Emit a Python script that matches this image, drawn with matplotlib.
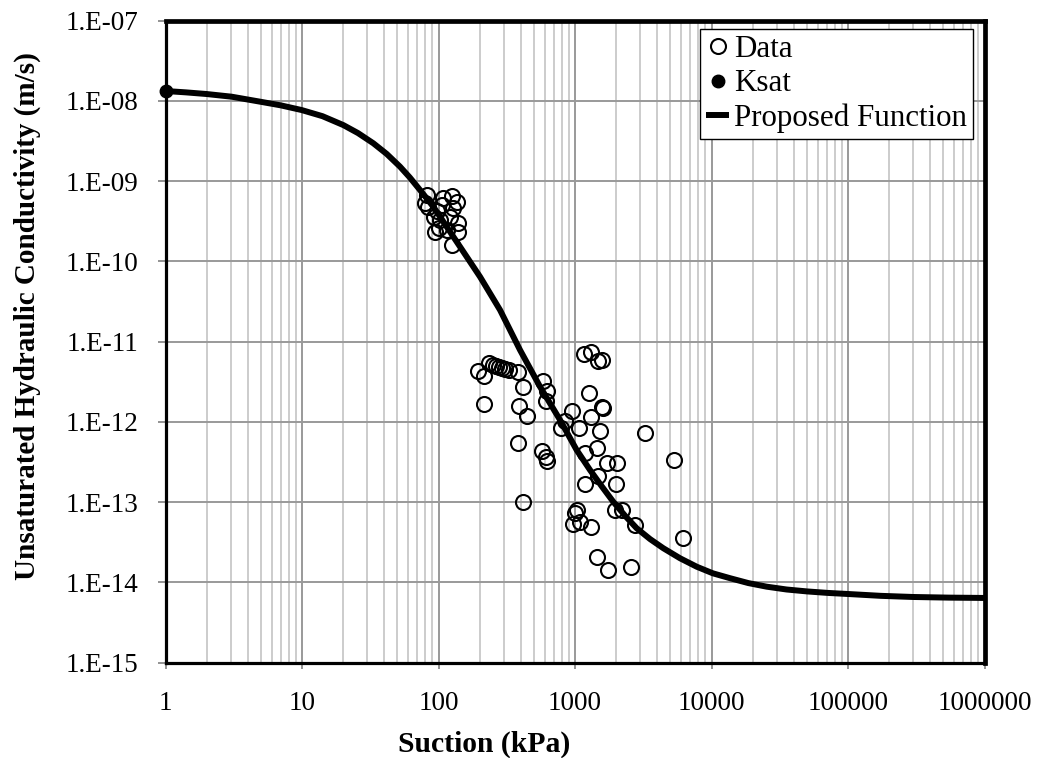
import matplotlib
matplotlib.use("Agg")
import matplotlib.pyplot as plt
from matplotlib.ticker import LogLocator, FixedLocator, NullFormatter
from matplotlib.lines import Line2D

plt.rcParams['font.family'] = ['Liberation Serif', 'DejaVu Serif']

# Measured unsaturated hydraulic conductivity
data_suction = [82, 80, 108, 125, 136, 128, 97, 103, 121, 140, 100, 115, 94, 139, 125,
                92, 106, 84,
                196, 215, 236, 251, 264, 278, 292, 307, 328, 384, 414, 215, 391, 443,
                384, 586, 627, 614, 570, 614, 621,
                1170, 1310, 1466, 1570, 1273, 946, 845, 786, 1076, 1303, 1570, 1524,
                1442, 1183, 1707, 414, 2042, 1482, 1184, 1997, 1964, 2199, 2754, 1029,
                1000, 962, 1088, 1303, 1457, 1754, 2559, 5310, 6150, 3258, 1611]
data_k = [6.7e-10, 5.3e-10, 6.1e-10, 6.5e-10, 5.5e-10, 4.6e-10, 4.2e-10, 3.3e-10,
          3.6e-10, 3.0e-10, 2.6e-10, 2.5e-10, 2.35e-10, 2.35e-10, 1.6e-10,
          3.6e-10, 5.0e-10, 4.8e-10,
          4.3e-12, 3.7e-12, 5.4e-12, 5.1e-12, 5.0e-12, 4.8e-12, 4.7e-12, 4.6e-12,
          4.4e-12, 4.2e-12, 2.75e-12, 1.67e-12, 1.6e-12, 1.2e-12,
          5.4e-13, 3.2e-12, 2.4e-12, 1.8e-12, 4.3e-13, 3.7e-13, 3.3e-13,
          7.0e-12, 7.5e-12, 5.8e-12, 5.9e-12, 2.3e-12, 1.38e-12, 1.04e-12, 8.3e-13,
          8.3e-13, 1.14e-12, 1.55e-12, 7.8e-13,
          4.8e-13, 4.1e-13, 3.05e-13, 1.0e-13, 3.1e-13, 2.1e-13, 1.7e-13, 1.7e-13,
          8.0e-14, 8.0e-14, 5.2e-14, 8.0e-14,
          7.3e-14, 5.35e-14, 5.7e-14, 4.9e-14, 2.1e-14, 1.43e-14, 1.55e-14, 3.4e-13,
          3.6e-14, 7.35e-13, 1.5e-12]

# Saturated hydraulic conductivity
ksat_suction = [1.0]
ksat_k = [1.33e-8]

# Proposed conductivity function
curve_suction = [1.0, 1.413, 2.0, 3.05, 4.92, 7.0, 9.95, 14.13, 20.1, 25.7, 33.3,
                 41.7, 52.2, 61.7, 73.2, 91.6, 102.6, 143.6, 201.4, 282.5, 395.6,
                 554.2, 776.6, 1028, 1288, 1567, 1909, 2344, 2833, 3548, 4437, 5888,
                 7798, 10230, 13670, 18620, 25360, 35480, 50120, 70790, 1e5, 173800,
                 3e5, 549500, 1e6]
curve_k = [1.33e-8, 1.279e-8, 1.22e-8, 1.13e-8, 9.8e-9, 8.81e-9, 7.7e-9, 6.46e-9,
           5.0e-9, 3.98e-9, 2.97e-9, 2.19e-9, 1.52e-9, 1.11e-9, 7.77e-10, 4.81e-10,
           3.61e-10, 1.53e-10, 6.45e-11, 2.48e-11, 7.88e-12, 2.75e-12, 1.06e-12,
           4.47e-13, 2.52e-13, 1.585e-13, 1.01e-13, 6.68e-14, 4.73e-14, 3.47e-14,
           2.67e-14, 2.0e-14, 1.57e-14, 1.30e-14, 1.13e-14, 9.82e-15, 8.86e-15,
           8.17e-15, 7.73e-15, 7.41e-15, 7.18e-15, 6.81e-15, 6.59e-15, 6.47e-15,
           6.41e-15]

x_ticks = [1, 10, 100, 1000, 10000, 100000, 1000000]
x_tick_labels = ["1", "10", "100", "1000", "10000", "100000", "1000000"]
y_ticks = [1e-15, 1e-14, 1e-13, 1e-12, 1e-11, 1e-10, 1e-9, 1e-8, 1e-7]
y_tick_labels = ["1.E-15", "1.E-14", "1.E-13", "1.E-12", "1.E-11", "1.E-10",
                 "1.E-09", "1.E-08", "1.E-07"]

fig = plt.figure(figsize=(10.45, 7.58), dpi=100)
ax = fig.add_axes([165.5 / 1045, 1 - 662.7 / 758, (984.5 - 165.5) / 1045,
                   (662.7 - 20.7) / 758])

ax.set_xscale('log')
ax.set_yscale('log')
ax.set_xlim(1, 1e6)
ax.set_ylim(1e-15, 1e-7)

ax.xaxis.set_major_locator(FixedLocator(x_ticks))
ax.set_xticklabels(x_tick_labels)
ax.xaxis.set_minor_locator(LogLocator(base=10, subs=range(2, 10), numticks=100))
ax.xaxis.set_minor_formatter(NullFormatter())
ax.yaxis.set_major_locator(FixedLocator(y_ticks))
ax.set_yticklabels(y_tick_labels)
ax.yaxis.set_minor_locator(FixedLocator([]))

ax.grid(True, which='major', axis='both', color='#999999', linewidth=1.4, zorder=0)
ax.grid(True, which='minor', axis='x', color='#c4c4c4', linewidth=1.2, zorder=0)
ax.set_axisbelow(True)

ax.tick_params(axis='x', which='major', direction='out', length=4.3, width=1.2,
               color='#808080', labelsize=19.5, pad=16)
ax.tick_params(axis='x', which='minor', length=0)
ax.tick_params(axis='y', which='major', direction='out', length=5.8, width=1.2,
               color='#808080', labelsize=19.5, pad=14)

for side, lw in [('left', 2.3), ('bottom', 2.3), ('right', 3.4), ('top', 3.4)]:
    ax.spines[side].set_linewidth(lw)
    ax.spines[side].set_color('black')
    ax.spines[side].set_zorder(5)

ax.plot(data_suction, data_k, linestyle='none', marker='o', markersize=10.8,
        markerfacecolor='none', markeredgecolor='black', markeredgewidth=1.5,
        zorder=3, clip_on=False)
ax.plot(curve_suction, curve_k, color='black', linewidth=4.3, zorder=4,
        solid_capstyle='butt', solid_joinstyle='round')
ax.plot(ksat_suction, ksat_k, linestyle='none', marker='o', markersize=9,
        color='black', zorder=6, clip_on=False)

handles = [
    Line2D([], [], linestyle='none', marker='o', markersize=10.8,
           markerfacecolor='none', markeredgecolor='black', markeredgewidth=1.5),
    Line2D([], [], linestyle='none', marker='o', markersize=9, color='black'),
    Line2D([], [], color='black', linewidth=4.3, solid_capstyle='butt'),
]
leg = ax.legend(handles, ["Data", "Ksat", "Proposed Function"],
                loc='upper right', bbox_to_anchor=(973 / 1045, 1 - 29 / 758),
                bbox_transform=fig.transFigure, borderaxespad=0,
                fontsize=22.3, frameon=True, fancybox=False, framealpha=1,
                edgecolor='black', handlelength=0.75, handletextpad=0.15,
                labelspacing=0.17, borderpad=0.2)
leg.get_frame().set_linewidth(1.0)
leg.set_zorder(7)

fig.text(484 / 1045, 1 - 752 / 758, "Suction (kPa)", ha='center', va='baseline',
         fontsize=21.3, fontweight='bold')
fig.text(27 / 1045, 1 - 316 / 758, "Unsaturated Hydraulic Conductivity (m/s)",
         ha='center', va='center', rotation=90, fontsize=21, fontweight='bold')

fig.savefig("out.png", dpi=100)
